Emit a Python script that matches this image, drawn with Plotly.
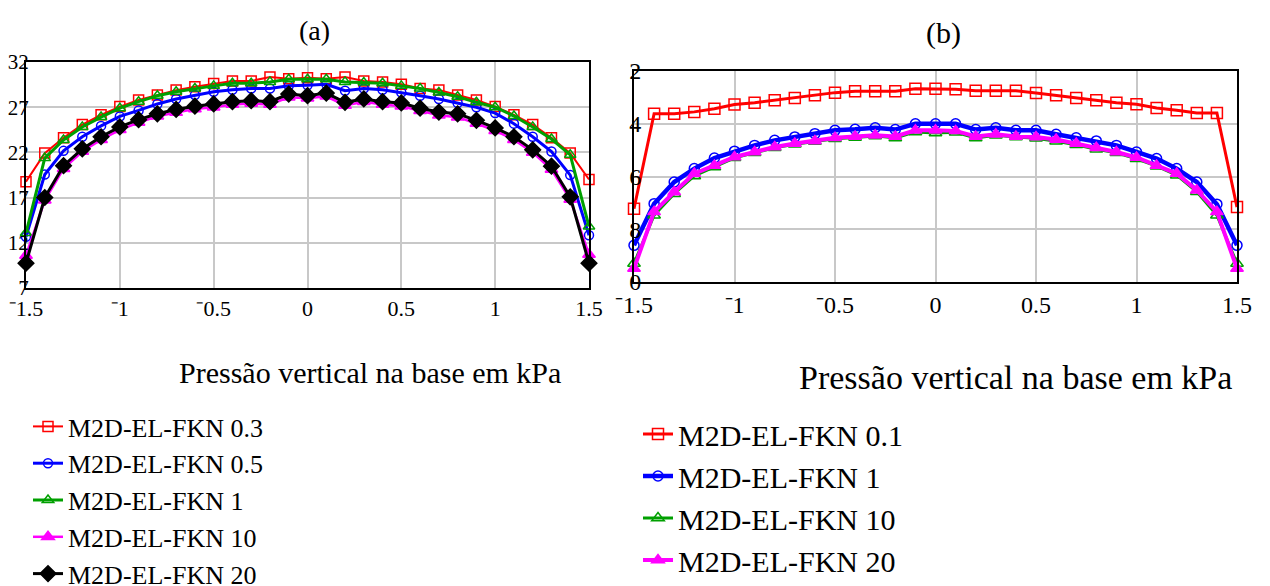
import plotly.graph_objects as go

# ---------------- data ----------------
x_pos = [-1.5, -1.4, -1.3, -1.2, -1.1, -1.0, -0.9, -0.8, -0.7, -0.6, -0.5, -0.4, -0.3, -0.2, -0.1, 0.0,
         0.1, 0.2, 0.3, 0.4, 0.5, 0.6, 0.7, 0.8, 0.9, 1.0, 1.1, 1.2, 1.3, 1.4, 1.5]

# chart (a)
a_fkn_03 = [18.76, 21.92, 23.62, 25.08, 26.16, 27.07, 27.80, 28.34, 28.89, 29.25, 29.61, 29.90, 29.90, 30.34, 30.16, 30.27,
            30.16, 30.34, 29.90, 29.80, 29.54, 29.07, 28.89, 28.34, 27.80, 27.07, 26.16, 25.08, 23.62, 21.92, 19.01]
a_fkn_05 = [12.66, 19.56, 22.17, 23.73, 24.93, 25.98, 26.64, 27.36, 27.91, 28.34, 28.71, 28.93, 29.07, 29.07, 29.36, 29.43,
            29.54, 28.82, 29.07, 28.93, 28.63, 28.27, 27.91, 27.47, 27.00, 26.35, 25.18, 23.73, 22.10, 19.49, 12.84]
a_fkn_1 = [13.09, 21.37, 23.37, 24.82, 25.91, 26.89, 27.61, 28.27, 28.71, 29.07, 29.36, 29.65, 29.65, 29.80, 30.09, 30.09,
           30.09, 29.80, 29.73, 29.65, 29.36, 29.07, 28.63, 28.16, 27.54, 27.00, 26.02, 24.82, 23.48, 21.73, 13.81]
a_fkn_10 = [10.6, 16.7, 20.2, 22.1, 23.4, 24.5, 25.3, 26.0, 26.4, 26.8, 27.0, 27.3, 27.4, 27.3, 28.1, 28.0,
            28.2, 27.2, 27.6, 27.3, 27.1, 26.6, 26.1, 25.9, 25.2, 24.4, 23.4, 22.0, 20.1, 16.8, 10.7]
a_fkn_20 = [9.75, 17.01, 20.53, 22.39, 23.73, 24.82, 25.62, 26.27, 26.75, 27.11, 27.36, 27.61, 27.72, 27.61, 28.45, 28.27,
            28.56, 27.54, 27.91, 27.61, 27.47, 26.89, 26.46, 26.27, 25.55, 24.71, 23.73, 22.28, 20.47, 17.09, 9.75]

# chart (b)
b_fkn_01 = [-7.22, -3.62, -3.62, -3.55, -3.43, -3.27, -3.20, -3.11, -3.02, -2.92, -2.82, -2.77, -2.77, -2.77, -2.67, -2.67,
            -2.69, -2.75, -2.75, -2.75, -2.83, -2.92, -3.02, -3.11, -3.20, -3.26, -3.40, -3.49, -3.59, -3.59, -7.16]
b_fkn_1 = [-8.61, -7.03, -6.21, -5.70, -5.30, -5.04, -4.82, -4.63, -4.50, -4.375, -4.25, -4.21, -4.15, -4.22, -4.00, -4.00,
           -4.00, -4.22, -4.15, -4.25, -4.25, -4.40, -4.53, -4.65, -4.82, -5.07, -5.32, -5.70, -6.21, -7.05, -8.61]
b_fkn_10 = [-9.30, -7.47, -6.65, -5.98, -5.64, -5.29, -5.10, -4.91, -4.78, -4.67, -4.57, -4.52, -4.46, -4.54, -4.31, -4.35,
            -4.32, -4.54, -4.44, -4.50, -4.55, -4.66, -4.80, -4.97, -5.10, -5.33, -5.61, -5.95, -6.58, -7.47, -9.30]
b_fkn_20 = [-9.49, -7.34, -6.59, -5.89, -5.58, -5.26, -5.07, -4.88, -4.75, -4.65, -4.53, -4.48, -4.44, -4.48, -4.25, -4.25,
            -4.27, -4.48, -4.40, -4.48, -4.50, -4.60, -4.75, -4.91, -5.07, -5.28, -5.58, -5.89, -6.52, -7.34, -9.49]

x_tickvals = [-1.5, -1, -0.5, 0, 0.5, 1, 1.5]
x_ticktext = ["\u207b1.5", "\u207b1", "\u207b0.5", "0", "0.5", "1", "1.5"]
ya_tickvals = [7, 12, 17, 22, 27, 32]
ya_ticktext = ["7", "12", "17", "22", "27", "32"]
yb_tickvals = [-10, -8, -6, -4, -2]
yb_ticktext = ["0", "8", "6", "4", "2"]

axis_title = "Pressão vertical na base em kPa"

FONT = "Liberation Serif, Times New Roman, serif"
RED, BLUE, GREEN, MAG, BLACK = "#ff0000", "#0000ff", "#00a000", "#ff00ff", "#000000"

fig = go.Figure()

def add(x, y, name, color, width, symbol, size, xa, ya, legend):
    fig.add_trace(go.Scatter(
        x=x, y=y, name=name, mode="lines+markers",
        line=dict(color=color, width=width),
        marker=dict(symbol=symbol, size=size, color=color,
                    line=dict(color=color, width=1.5)),
        xaxis=xa, yaxis=ya, legend=legend, cliponaxis=False))

# (a)
add(x_pos, a_fkn_03, "M2D-EL-FKN 0.3", RED, 2, "square-open", 10, "x", "y", "legend")
add(x_pos, a_fkn_05, "M2D-EL-FKN 0.5", BLUE, 3, "circle-open", 9, "x", "y", "legend")
add(x_pos, a_fkn_1, "M2D-EL-FKN 1", GREEN, 3, "triangle-up-open", 10, "x", "y", "legend")
add(x_pos, a_fkn_10, "M2D-EL-FKN 10", MAG, 2.5, "triangle-up", 11, "x", "y", "legend")
add(x_pos, a_fkn_20, "M2D-EL-FKN 20", BLACK, 3, "diamond", 12, "x", "y", "legend")

# (b)
add(x_pos, b_fkn_01, "M2D-EL-FKN 0.1", RED, 3, "square-open", 11, "x2", "y2", "legend2")
add(x_pos, b_fkn_1, "M2D-EL-FKN 1", BLUE, 4.5, "circle-open", 10, "x2", "y2", "legend2")
add(x_pos, b_fkn_10, "M2D-EL-FKN 10", GREEN, 3, "triangle-up-open", 11, "x2", "y2", "legend2")
add(x_pos, b_fkn_20, "M2D-EL-FKN 20", MAG, 4, "triangle-up", 11, "x2", "y2", "legend2")

# page body has an 8px margin, so the figure is drawn 8px in from the top-left
OFF = 8
W, H = 1270 - OFF, 586 - OFF
def px(v): return (v - OFF) / W
def py(v): return 1 - (v - OFF) / H

common_axis = dict(showline=True, linecolor="black", linewidth=2, mirror=True,
                   showgrid=True, gridcolor="#c8c8c8", gridwidth=1.5, zeroline=False,
                   ticks="", tickfont=dict(family=FONT, size=22, color="black"))

def ann(text, x, y, size):
    return dict(text=text, x=px(x), y=py(y), xref="paper", yref="paper", showarrow=False,
                xanchor="center", yanchor="middle",
                font=dict(family=FONT, size=size, color="black"))

fig.update_layout(
    width=W, height=H,
    margin=dict(l=0, r=0, t=0, b=0, autoexpand=False),
    paper_bgcolor="white", plot_bgcolor="white",
    font=dict(family=FONT, color="black"),
    xaxis=dict(domain=[px(26), px(589)], range=[-1.5, 1.5], anchor="y",
               tickvals=x_tickvals, ticktext=x_ticktext, **common_axis),
    yaxis=dict(domain=[py(288), py(62)], range=[7, 32], anchor="x",
               tickvals=ya_tickvals, ticktext=ya_ticktext, ticklabelstandoff=-9,
               **{**common_axis, "tickfont": dict(family=FONT, size=21, color="black")}),
    xaxis2=dict(domain=[px(634), px(1237)], range=[-1.5, 1.5], anchor="y2",
                tickvals=x_tickvals, ticktext=x_ticktext,
                **{**common_axis, "tickfont": dict(family=FONT, size=24, color="black")}),
    yaxis2=dict(domain=[py(282), py(71)], range=[-10, -2], anchor="x2",
                tickvals=yb_tickvals, ticktext=yb_ticktext, ticklabelstandoff=-14,
                **{**common_axis, "tickfont": dict(family=FONT, size=24, color="black")}),
    legend=dict(x=px(28), y=py(403), xanchor="left", yanchor="top",
                font=dict(family=FONT, size=26, color="black"),
                bgcolor="rgba(0,0,0,0)", tracegroupgap=0, itemwidth=30),
    legend2=dict(x=px(638), y=py(408), xanchor="left", yanchor="top",
                 font=dict(family=FONT, size=30, color="black"),
                 bgcolor="rgba(0,0,0,0)", tracegroupgap=0, itemwidth=30),
    showlegend=True,
    annotations=[
        ann("(a)", 314, 30, 28),
        ann("(b)", 943, 33, 30),
        ann(axis_title, 370, 372, 30),
        ann(axis_title, 1015, 377, 34),
    ],
)

fig.write_html("out.html")
